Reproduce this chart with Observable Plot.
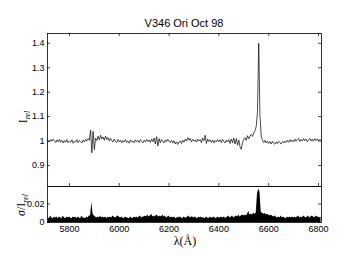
<!DOCTYPE html>
<html><head><meta charset="utf-8">
<script src="https://cdn.jsdelivr.net/npm/d3@7"></script>
<script src="https://cdn.jsdelivr.net/npm/@observablehq/plot@0.6"></script>
<style>
body{margin:0;background:#fff;}
#c{position:relative;width:341px;height:256px;overflow:hidden;font-family:"Liberation Sans",Arial,sans-serif;}
#c svg{position:absolute;left:0;}
</style></head><body><div id="c"></div>
<script>
const title = "V346 Ori Oct 98";
const lambdaStart = 5715, lambdaStep = 5;
const intensity = [
1.002,0.996,1.006,0.999,1.008,1.001,0.994,1.005,0.997,1.007,0.995,1.003,0.992,1.002,0.995,1.006,0.993,1.000,
0.995,1.005,0.991,1.000,0.996,1.006,0.993,1.002,0.997,0.992,1.004,0.996,1.007,1.000,1.010,1.003,
1.045,0.952,1.040,0.965,1.012,
1.002,1.020,1.005,1.024,1.008,1.017,1.003,1.021,1.006,1.014,1.000,1.012,1.002,0.996,1.008,0.999,0.994,1.006,0.997,
1.004,0.993,1.002,0.996,1.006,0.994,1.000,0.991,1.004,0.996,1.001,0.993,1.005,0.997,1.002,0.994,1.006,0.998,0.993,1.003,
0.996,1.007,0.998,1.005,0.994,1.008,0.997,1.012,0.988,1.018,0.980,1.010,0.993,1.006,0.999,0.992,1.005,0.997,1.007,0.998,
0.994,1.003,0.992,1.001,0.988,0.997,0.986,0.996,1.000,0.990,1.003,0.995,1.008,1.000,1.014,1.003,1.011,0.997,1.007,0.999,
1.005,0.995,1.008,1.000,1.006,0.993,1.012,1.001,1.024,0.990,1.008,0.998,1.005,0.994,1.004,0.992,1.002,0.996,1.006,0.997,
1.005,0.994,1.007,0.998,0.992,1.004,0.996,1.006,0.990,1.008,0.993,1.012,0.988,1.010,0.983,1.004,0.976,0.966,0.994,1.007,
1.014,1.003,1.022,1.009,1.020,1.027,1.019,1.033,1.042,1.060,1.120,1.400,1.100,1.020,1.003,
0.994,1.003,0.992,1.000,0.990,0.998,0.988,0.999,0.991,0.987,0.997,0.989,0.999,0.993,0.988,0.998,0.992,1.000,0.994,1.003,0.995,1.006,0.997,1.004,0.996,
1.008,0.999,1.006,1.011,0.998,1.007,1.000,1.010,1.001,1.008,0.997,1.005,1.011,1.000,1.008,0.999,1.010,1.002,1.009,1.000,1.007,1.002
];
const sigma = [
.005,.004,.007,.005,.004,.006,.005,.006,.004,.006,.005,.004,.007,.005,.004,.006,.005,.006,
.005,.004,.006,.005,.006,.004,.006,.005,.004,.007,.005,.005,.004,.006,.005,.007,
.007,.022,.009,.007,.006,
.005,.006,.005,.007,.005,.006,.005,.006,.004,.006,.005,.006,.005,.007,.006,.005,.006,.007,.006,
.005,.006,.005,.004,.006,.005,.005,.004,.006,.005,.004,.006,.005,.006,.005,.006,.007,.005,.006,.006,
.007,.006,.008,.006,.007,.009,.006,.007,.006,.008,.007,.006,.007,.006,.008,.006,.007,.005,.006,.007,
.005,.006,.005,.006,.005,.004,.006,.005,.006,.005,.004,.006,.005,.005,.006,.007,.005,.006,.006,.005,
.006,.005,.004,.006,.005,.006,.005,.005,.004,.006,.005,.004,.006,.005,.005,.006,.005,.004,.006,.005,
.005,.006,.005,.006,.005,.005,.006,.007,.005,.006,.007,.005,.006,.007,.006,.008,.006,.007,.008,.007,
.008,.007,.009,.012,.008,.009,.008,.010,.009,.010,.031,.036,.033,.011,.010,
.009,.010,.008,.009,.008,.007,.008,.007,.006,.007,.006,.005,.006,.005,.007,.005,.006,.005,.004,.006,.005,.006,.005,.006,.005,
.006,.005,.006,.007,.005,.006,.005,.007,.006,.005,.006,.007,.005,.006,.007,.006,.005,.007,.006,.006,.005,.006
];
const xTicks = [5800,6000,6200,6400,6600,6800];
const yTicksTop = [0.9,1,1.1,1.2,1.3,1.4];
const yTicksBottom = [0,0.02];
const xDomain = [5712, 6812];
const yDomainTop = [0.814, 1.44];
const yDomainBottom = [0, 0.039];

const data = intensity.map((v,i)=>({lambda: lambdaStart + i*lambdaStep, I: v, s: sigma[i]}));

const W = 341, mL = 47, mR = 20;
const pw = W - mL - mR;
const fmt = d => String(d);

const topH = 186, topMT = 33;
const tph = topH - topMT;
const topPlot = Plot.plot({
  width: W, height: topH, marginLeft: mL, marginRight: mR, marginTop: topMT, marginBottom: 0,
  style: {fontFamily: '"Liberation Sans",Arial,sans-serif', background: "transparent", overflow: "visible"},
  x: {domain: xDomain, axis: null},
  y: {domain: yDomainTop},
  marks: [
    Plot.lineY(data, {x: "lambda", y: "I", stroke: "#000", strokeWidth: 0.7}),
    Plot.tickX(xTicks, {x: d => d, insetBottom: tph - 3, stroke: "#000", strokeWidth: 0.7}),
    Plot.tickX(xTicks, {x: d => d, insetTop: tph - 3, stroke: "#000", strokeWidth: 0.7}),
    Plot.tickY(yTicksTop, {y: d => d, insetRight: pw - 3, stroke: "#000", strokeWidth: 0.7}),
    Plot.tickY(yTicksTop, {y: d => d, insetLeft: pw - 3, stroke: "#000", strokeWidth: 0.7}),
    Plot.axisY(yTicksTop, {tickSize: 0, tickPadding: 3, fontSize: 9, tickFormat: fmt, label: null, fill: "#000"}),
    Plot.frame({stroke: "#000", strokeWidth: 0.8})
  ]
});
topPlot.style.top = "0px";

const botTop = 185, botH = 71, botMT = 1, botMB = 34;
const bph = botH - botMT - botMB;
const botPlot = Plot.plot({
  width: W, height: botH, marginLeft: mL, marginRight: mR, marginTop: botMT, marginBottom: botMB,
  style: {fontFamily: '"Liberation Sans",Arial,sans-serif', background: "transparent", overflow: "visible"},
  x: {domain: xDomain},
  y: {domain: yDomainBottom},
  marks: [
    Plot.areaY(data, {x: "lambda", y: "s", fill: "#000"}),
    Plot.tickX(xTicks, {x: d => d, insetTop: bph - 3, stroke: "#000", strokeWidth: 0.7}),
    Plot.tickY(yTicksBottom, {y: d => d, insetRight: pw - 3, stroke: "#000", strokeWidth: 0.7}),
    Plot.tickY(yTicksBottom, {y: d => d, insetLeft: pw - 3, stroke: "#000", strokeWidth: 0.7}),
    Plot.axisY(yTicksBottom, {tickSize: 0, tickPadding: 3, fontSize: 9, tickFormat: fmt, label: null, fill: "#000"}),
    Plot.axisX(xTicks, {tickSize: 0, tickPadding: 3, fontSize: 9, tickFormat: fmt, label: null, fill: "#000"}),
    Plot.frame({stroke: "#000", strokeWidth: 0.8})
  ]
});
botPlot.style.top = botTop + "px";

const c = document.getElementById("c");
c.appendChild(topPlot);
c.appendChild(botPlot);

// text overlay: title and axis labels
const ov = d3.select(c).append("svg").attr("width", W).attr("height", 256).style("top", "0px");
ov.append("text").attr("x", 184).attr("y", 27).attr("text-anchor", "middle")
  .attr("font-family", '"Liberation Sans",Arial,sans-serif').attr("font-size", 11).attr("fill", "#000").text(title);

const serif = '"Liberation Serif","DejaVu Serif",serif';
const yl1 = ov.append("text").attr("transform", "translate(27,117) rotate(-90)").attr("text-anchor", "middle")
  .attr("font-family", serif).attr("font-size", 12).attr("fill", "#000");
yl1.append("tspan").text("I");
yl1.append("tspan").attr("font-size", 8).attr("font-style", "italic").attr("dy", 3).text("rel");

const yl2 = ov.append("text").attr("transform", "translate(25,205) rotate(-90)").attr("text-anchor", "middle")
  .attr("font-family", serif).attr("font-size", 12).attr("fill", "#000");
yl2.append("tspan").attr("font-style", "italic").text("σ");
yl2.append("tspan").text("/I");
yl2.append("tspan").attr("font-size", 8).attr("font-style", "italic").attr("dy", 3).text("rel");

ov.append("text").attr("x", 185).attr("y", 245).attr("text-anchor", "middle")
  .attr("font-family", serif).attr("font-size", 12).attr("fill", "#000").text("λ(Å)");
</script></body></html>
